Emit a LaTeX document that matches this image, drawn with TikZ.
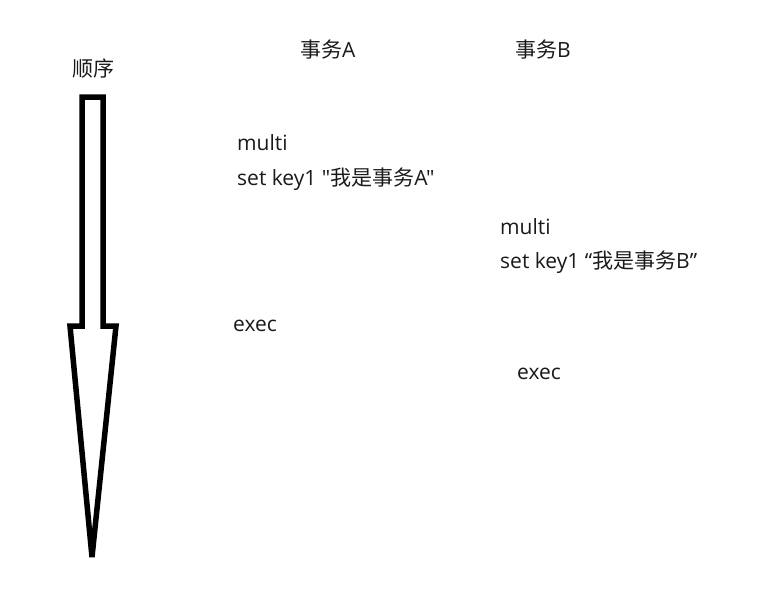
\documentclass[tikz,border=0pt]{standalone}
\usepackage{fontspec}
\setmainfont{Open Sans}[Ligatures=TeXOff]
\newfontfamily\cjk{Noto Sans CJK SC}
\usetikzlibrary{positioning}
\definecolor{ink}{HTML}{1A1A1A}
\tikzset{cmd/.style={anchor=base west,inner sep=0pt,font=\fontsize{21}{24}\selectfont,text=ink},
 title/.style={cmd,font=\fontsize{21}{24}\selectfont},
 bigarrow/.style={draw=black,fill=white,line width=5.5pt,line join=miter}}
\begin{document}
\begin{tikzpicture}[x=1pt,y=-1pt]
\useasboundingbox (0,0) rectangle (771,589);
% order arrow
\draw[bigarrow] (82,97)--(103,97)--(103,326)--(116,326)--(92,557)--(70,326)--(82,326)--cycle;
\node[title] (order) at (72,76) {\cjk 顺序};
\node[title] (txa) at (300,57) {{\cjk 事务}A};
\node[title] (txb) at (515,57) {{\cjk 事务}B};
% transaction A
\node[cmd] (multia) at (237,150) {multi};
\node[cmd] (seta) at (237,185) {set key1 "{\cjk 我是事务}A"};
\node[cmd] (execa) at (233,331) {exec};
% transaction B
\node[cmd] (multib) at (500,234) {multi};
\node[cmd] (setb) at (500,268) {set key1 “{\cjk 我是事务}B”};
\node[cmd] (execb) at (517,379) {exec};
\end{tikzpicture}
\end{document}
